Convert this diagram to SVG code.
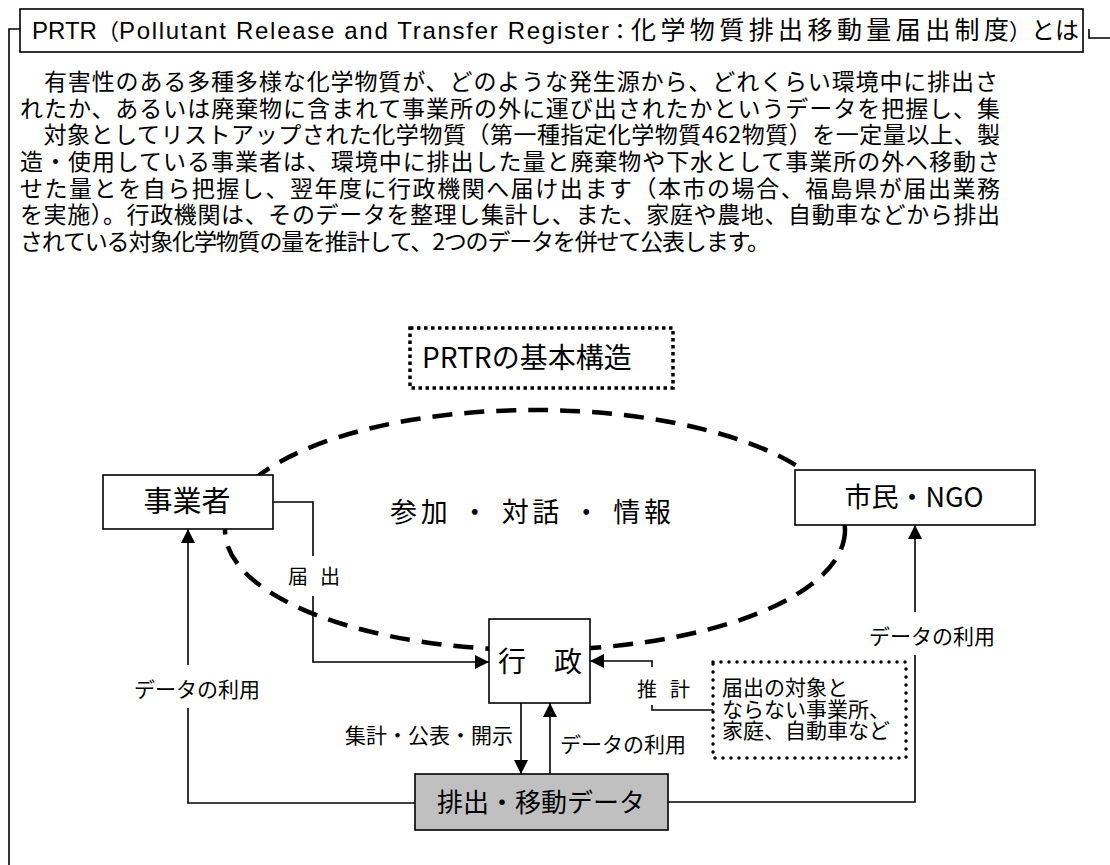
<svg xmlns="http://www.w3.org/2000/svg" width="1110" height="865" viewBox="0 0 1110 865">
<style>
text{font-family:"Noto Sans CJK JP","Liberation Sans",sans-serif;fill:#000}
.lat{font-family:"Liberation Sans","Noto Sans CJK JP",sans-serif}
.box{fill:#fff;stroke:#000;stroke-width:1.6}
.ln{fill:none;stroke:#000;stroke-width:1.6}
.p{font-size:23px}
.lbl{font-size:21px}
.mid{text-anchor:middle}
</style>
<defs>
<marker id="ah" viewBox="0 0 14 14" refX="14" refY="7" markerWidth="14" markerHeight="14" orient="auto" markerUnits="userSpaceOnUse"><path d="M0,0 L14,7 L0,14 z" fill="#000"/></marker>
</defs>
<rect width="1110" height="865" fill="#fff"/>
<g id="frame">
<path class="ln" d="M9,865 V29 H20"/>
<path class="ln" d="M1089,29 V38 H1110"/>
</g>
<g id="title">
<rect class="box" x="20" y="9" width="1063" height="43"/>
<text y="39" font-size="23"><tspan class="lat" x="32" font-size="24">PRTR</tspan><tspan x="97" font-size="22">（</tspan><tspan class="lat" x="119" font-size="24" textLength="490" lengthAdjust="spacing">Pollutant Release and Transfer Register</tspan><tspan x="609" font-size="22">：</tspan><tspan x="631" font-size="25" textLength="378" lengthAdjust="spacing">化学物質排出移動量届出制度</tspan><tspan x="1009" font-size="22">）</tspan><tspan x="1031" font-size="24">とは</tspan></text>
</g>
<g id="paragraph" class="p">
<text x="20" y="90" textLength="978" lengthAdjust="spacing">　有害性のある多種多様な化学物質が、どのような発生源から、どれくらい環境中に排出さ</text>
<text x="20" y="117" textLength="980" lengthAdjust="spacing">れたか、あるいは廃棄物に含まれて事業所の外に運び出されたかというデータを把握し、集</text>
<text x="20" y="143" textLength="980" lengthAdjust="spacing">　対象としてリストアップされた化学物質（第一種指定化学物質462物質）を一定量以上、製</text>
<text x="20" y="170" textLength="980" lengthAdjust="spacing">造・使用している事業者は、環境中に排出した量と廃棄物や下水として事業所の外へ移動さ</text>
<text x="20" y="197" textLength="980" lengthAdjust="spacing">せた量とを自ら把握し、翌年度に行政機関へ届け出ます（本市の場合、福島県が届出業務</text>
<text x="20" y="223" textLength="980" lengthAdjust="spacing">を実施）。行政機関は、そのデータを整理し集計し、また、家庭や農地、自動車などから排出</text>
<text x="20" y="250" textLength="750" lengthAdjust="spacing">されている対象化学物質の量を推計して、2つのデータを併せて公表します。</text>
</g>
<g id="ellipse">
<ellipse cx="535" cy="530" rx="310" ry="120" fill="none" stroke="#000" stroke-width="4.5" stroke-dasharray="20 12"/>
</g>
<g id="connectors">
<path class="ln" d="M273,502 H313 V556"/>
<path class="ln" d="M313,596 V662 H489" marker-end="url(#ah)"/>
<path class="ln" d="M415,803 H188 V708"/>
<path class="ln" d="M188,665 V529" marker-end="url(#ah)"/>
<path class="ln" d="M668,802 H915 V655"/>
<path class="ln" d="M915,612 V525" marker-end="url(#ah)"/>
<path class="ln" d="M521,703 V774" marker-end="url(#ah)"/>
<path class="ln" d="M550,774 V703" marker-end="url(#ah)"/>
<path class="ln" d="M713,710 H652 V705"/>
<path class="ln" d="M652,667 V661 H590" marker-end="url(#ah)"/>
<text x="288" y="584" font-size="20" textLength="52" lengthAdjust="spacing">届 出</text>
<text class="lbl mid" x="197" y="697">データの利用</text>
<text class="lbl mid" x="932" y="644">データの利用</text>
<text class="lbl" x="513" y="743" text-anchor="end">集計・公表・開示</text>
<text class="lbl" x="560" y="752">データの利用</text>
<text x="637" y="697" font-size="20" textLength="53" lengthAdjust="spacing">推 計</text>
</g>
<g id="kihon">
<rect x="410" y="328" width="263" height="60" fill="#fff" stroke="#000" stroke-width="3.5" stroke-dasharray="3.5 3.5"/>
<text x="422" y="368" font-size="28">PRTRの基本構造</text>
</g>
<g id="sanka">
<text x="390" y="522" font-size="27" textLength="281" lengthAdjust="spacing">参加 ・ 対話 ・ 情報</text>
</g>
<g id="jigyosha">
<rect class="box" x="103" y="475" width="170" height="54"/>
<text class="mid" x="187" y="512" font-size="29">事業者</text>
</g>
<g id="shimin">
<rect class="box" x="795" y="470" width="240" height="55"/>
<text class="mid" x="914" y="507" font-size="27">市民・NGO</text>
</g>
<g id="gyosei">
<rect class="box" x="489" y="619" width="101" height="84"/>
<text class="mid" x="540" y="672" font-size="28">行　政</text>
</g>
<g id="data">
<rect x="415" y="774" width="253" height="56" fill="#c0c0c0" stroke="#000" stroke-width="1.6"/>
<text class="mid" x="541" y="812" font-size="26">排出・移動データ</text>
</g>
<g id="other">
<rect x="713" y="662" width="193" height="96" fill="#fff" stroke="#000" stroke-width="3.5" stroke-dasharray="0 8" stroke-linecap="round"/>
<text x="722" y="695" font-size="21">届出の対象と</text>
<text x="722" y="716.5" font-size="21">ならない事業所、</text>
<text x="722" y="738" font-size="21">家庭、自動車など</text>
</g>
</svg>
